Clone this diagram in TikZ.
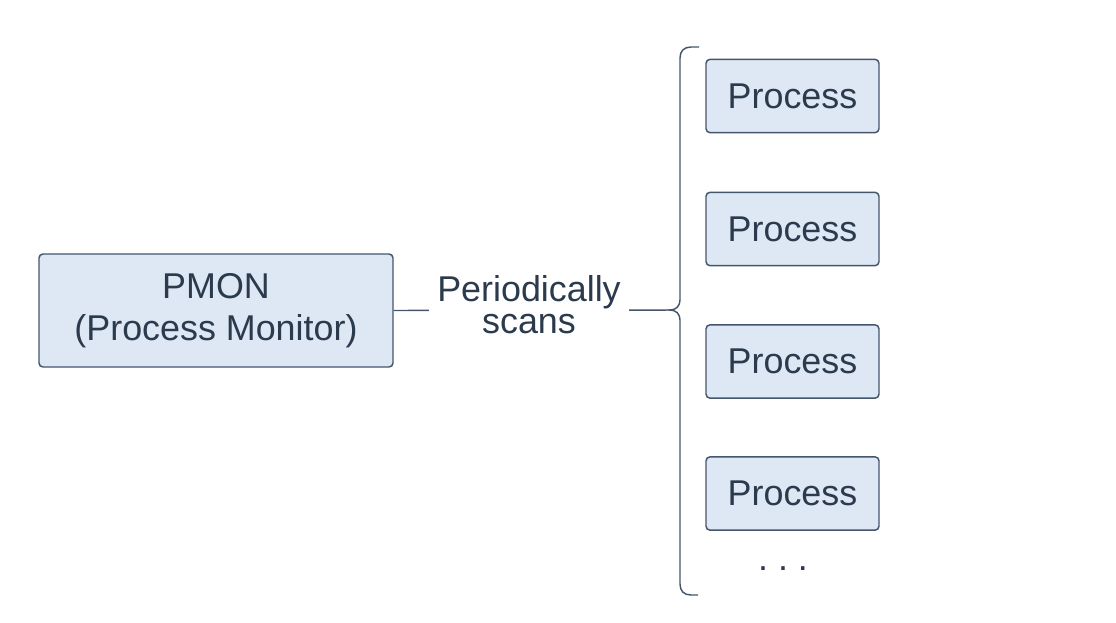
\documentclass[tikz,border=0pt]{standalone}
\usepackage{fontspec}
\setmainfont{Liberation Sans}
\definecolor{boxfill}{HTML}{DEE8F4}
\definecolor{boxline}{HTML}{44566B}
\definecolor{txt}{HTML}{2B3A4D}
\begin{document}
\begin{tikzpicture}[x=0.75pt,y=-0.75pt,
  box/.style={draw=boxline,fill=boxfill,line width=1.1pt,rounded corners=3pt,text=txt,align=center,
    font=\fontsize{26.9pt}{31.5pt}\selectfont,inner sep=0pt},
  conn/.style={draw=boxline,line width=1.1pt},
  lbl/.style={text=txt,align=center,font=\fontsize{26.9pt}{24pt}\selectfont,fill=white,inner xsep=6pt,inner ysep=0pt}]
\useasboundingbox (0,0) rectangle (1116,622);
\node[box,minimum width=265.5pt,minimum height=84.75pt] (pmon) at (216,310.5) {PMON\\(Process Monitor)};
\foreach \i/\y in {1/96,2/229,3/361.5,4/493.5}{
  \node[box,minimum width=129.75pt,minimum height=55pt] (p\i) at (792.5,\y) {Process};
}
\coordinate (tip) at (670,310);
\draw[conn] (pmon.east) -- (tip);
\node[lbl] (scan) at (529,305) {Periodically\\scans};
\draw[conn] (699,47) -- (691,47) .. controls (684,47) and (680,51) .. (680,58)
  -- (680,300) .. controls (680,306) and (676,310) .. (tip)
  .. controls (676,310) and (680,314) .. (680,320)
  -- (680,584) .. controls (680,591) and (684,595) .. (691,595) -- (698,595);
\node[text=txt,font=\fontsize{26.9pt}{31.5pt}\selectfont,inner sep=0pt] (dots) at (783,569) {.\hspace{7.5pt}.\hspace{7.5pt}.};
\end{tikzpicture}
\end{document}
